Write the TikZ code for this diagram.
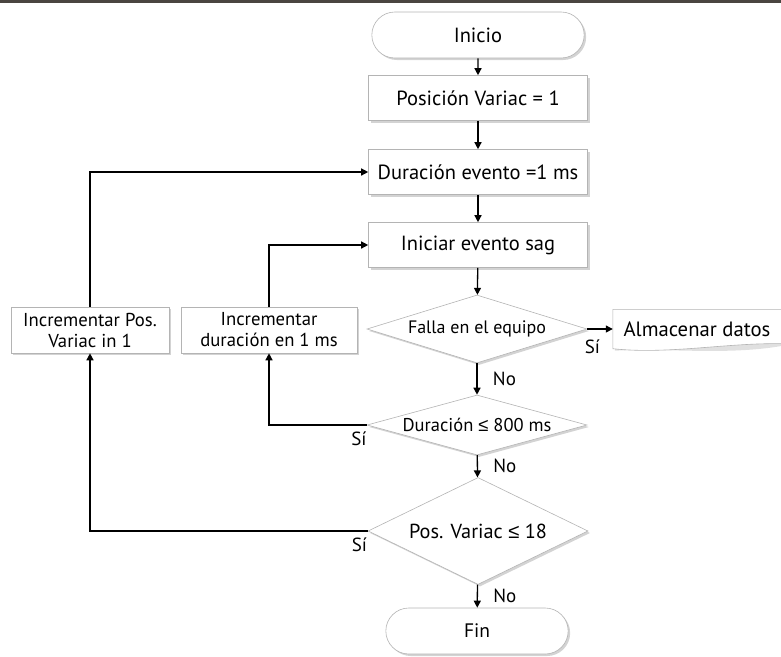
\documentclass[tikz,border=0pt]{standalone}
\usepackage{fontspec}
\setmainfont{PT Sans}
\newfontfamily\symfont{Liberation Sans}
\newcommand{\leqsym}{{\symfont ≤}}
\usetikzlibrary{calc,shapes.geometric,shapes.misc,shadows,arrows.meta,backgrounds}
\definecolor{barcol}{HTML}{4A4540}
\definecolor{edgecol}{HTML}{B4B4B4}
\tikzset{
  blk/.style={draw=edgecol,fill=white,line width=0.6pt,
    drop shadow={shadow xshift=2pt,shadow yshift=-2pt,opacity=.35}},
  term/.style={blk,rounded rectangle,minimum width=219pt,minimum height=46pt,font=\fontsize{20.5}{22}\selectfont},
  proc/.style={blk,rectangle,minimum width=219pt,minimum height=45pt,font=\fontsize{20.5}{22}\selectfont},
  incbox/.style={blk,rectangle,minimum height=46pt,inner sep=1pt,align=center,font=\fontsize{18.7}{21}\selectfont},
  dec/.style={blk,diamond,aspect=3,inner sep=0pt,minimum width=220pt},
  arr/.style={-{Triangle[length=7pt,width=7pt]},line width=1.3pt},
  lbl/.style={font=\fontsize{19}{21}\selectfont}
}
\begin{document}
\begin{tikzpicture}[x=1pt,y=-1pt]
      \useasboundingbox (0,0) rectangle (781,656);
      \fill[barcol] (0,0) rectangle (781,3);
      % main column
      \node[term] (ini) at (478,35) {Inicio};
      \node[proc] (pos) at (478,98) {Posición Variac = 1};
      \node[proc] (dur) at (478,172) {Duración evento =1 ms};
      \node[proc] (sag) at (478,245) {Iniciar evento sag};
      \node[dec,minimum height=68pt,font=\fontsize{18}{20}\selectfont] (falla) at (477,329) {Falla en el equipo};
      \node[dec,aspect=4,minimum height=60pt,font=\fontsize{18.5}{20}\selectfont] (durd) at (477,425) {Duración \leqsym\ 800 ms};
      \node[dec,minimum height=107pt,font=\fontsize{20.3}{22}\selectfont] (posd) at (478,531) {Pos. Variac \leqsym\ 18};
      \node[term,minimum width=189pt,font=\fontsize{19.5}{21}\selectfont] (fin) at (477,631) {Fin};
      % side boxes
      \node[incbox,minimum width=158pt] (incp) at (90,330) {Incrementar Pos.\\Variac in 1};
      \node[incbox,minimum width=176pt] (incd) at (269,330) {Incrementar\\duración en 1 ms};
      \node[font=\fontsize{20.7}{22}\selectfont,minimum width=168pt,minimum height=39pt,inner sep=0pt] (alm) at (697,329) {Almacenar datos};
      \begin{scope}[on background layer]
        \fill[gray!40,opacity=.6] ($(alm.north west)+(2,2)$) -- ($(alm.north east)+(2,2)$) -- ($(alm.south east)+(2,-3)$)
          .. controls ($(alm.south)+(30,7)$) and ($(alm.south)+(-30,-1)$) .. ($(alm.south west)+(2,2)$) -- cycle;
        \draw[edgecol,fill=white,line width=0.6pt] (alm.north east) -- (alm.north west) -- (alm.south west)
          .. controls ($(alm.south)+(-30,6)$) and ($(alm.south)+(30,-6)$) .. ($(alm.south east)+(0,-5)$);
      \end{scope}
      % connectors
      \draw[arr] (ini) -- (pos);
      \draw[arr] (pos) -- (dur);
      \draw[arr] (dur) -- (sag);
      \draw[arr] (sag) -- (falla);
      \draw[arr] (falla.east) -- (alm.west) node[lbl,pos=0.2,below=7pt]{Sí};
      \draw[arr] (falla) -- (durd) node[lbl,midway,right=12pt]{No};
      \draw[arr] (durd) -- (posd) node[lbl,midway,right=12pt]{No};
      \draw[arr] (posd) -- (fin) node[lbl,midway,right=12pt]{No};
      \draw[arr] (durd.west) -| (incd.south) node[lbl,pos=0.04,below=3pt]{Sí};
      \draw[arr] (incd.north) |- (sag.west);
      \draw[arr] (posd.west) -| (incp.south) node[lbl,pos=0.015,below=3pt]{Sí};
      \draw[arr] (incp.north) |- (dur.west);
\end{tikzpicture}
\end{document}
